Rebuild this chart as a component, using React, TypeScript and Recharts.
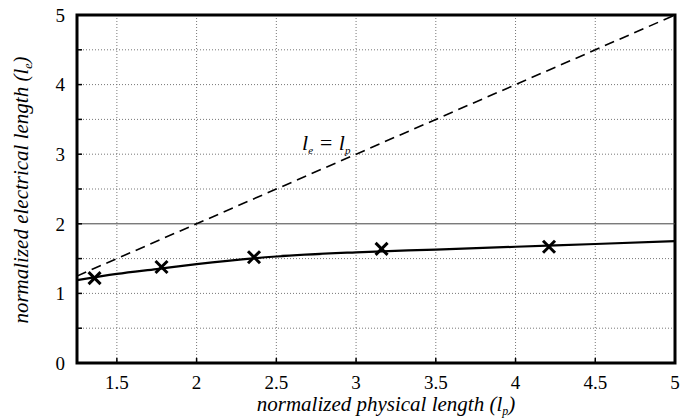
import React from "react";
import {
  ComposedChart,
  Line,
  Scatter,
  XAxis,
  YAxis,
  CartesianGrid,
  ReferenceLine,
  ReferenceArea,
  Label
} from "recharts";

// fitted curve (solid)
const curveX = [1.25, 1.5, 1.75, 2, 2.5, 3, 3.5, 4, 4.5, 5];
const curveY = [1.19, 1.28, 1.35, 1.42, 1.53, 1.59, 1.63, 1.67, 1.71, 1.75];

// measured points (x markers)
const measX = [1.36, 1.78, 2.36, 3.16, 4.21];
const measY = [1.22, 1.38, 1.52, 1.64, 1.67];

// reference line le = lp
const refX = [1.25, 5];

const xTicks = [1.5, 2, 2.5, 3, 3.5, 4, 4.5, 5];
const yTicks = [0, 0.5, 1, 1.5, 2, 2.5, 3, 3.5, 4, 4.5, 5];
const xGrid = [1.5, 2, 2.5, 3, 3.5, 4, 4.5];
const yGrid = [0.5, 1, 1.5, 2.5, 3, 3.5, 4, 4.5];

const curveData = curveX.map((x, i) => ({ x, y: curveY[i] }));
const measData = measX.map((x, i) => ({ x, y: measY[i] }));
const refData = refX.map((x) => ({ x, y: x }));

const FONT = '"Times New Roman", Times, "Liberation Serif", "Nimbus Roman", "DejaVu Serif", serif';
const txt = { fontFamily: FONT };
const itxt = { fontFamily: FONT, fontStyle: "italic" as const };

const Cross = (props: any) => {
  const { cx, cy } = props;
  const s = 6;
  return (
    <g stroke="#000" strokeWidth={3}>
      <line x1={cx - s} y1={cy - s} x2={cx + s} y2={cy + s} />
      <line x1={cx - s} y1={cy + s} x2={cx + s} y2={cy - s} />
    </g>
  );
};

const XTick = (props: any) => {
  const { x, y, payload } = props;
  return (
    <text x={x} y={y} dy="0.71em" textAnchor="middle" style={txt} fontSize={19} fill="#000">
      {payload.value}
    </text>
  );
};

const YTick = (props: any) => {
  const { x, y, payload } = props;
  if (!Number.isInteger(payload.value)) return <g />;
  return (
    <text x={x} y={y} dy="0.36em" textAnchor="end" style={txt} fontSize={19} fill="#000">
      {payload.value}
    </text>
  );
};

const YLabel = () => (
  <text
    transform="translate(28, 190) rotate(-90)"
    textAnchor="middle"
    style={itxt}
    fontSize={21}
    fill="#000"
  >
    normalized electrical length (l
    <tspan fontSize={12} dy={4}>e</tspan>
    <tspan dy={-4}>)</tspan>
  </text>
);

const XLabel = () => (
  <text x={386} y={411} textAnchor="middle" style={itxt} fontSize={21} fill="#000">
    normalized physical length (l
    <tspan fontSize={12} dy={4}>p</tspan>
    <tspan dy={-4}>)</tspan>
  </text>
);

export default function App() {
  return (
    <div style={{ position: "absolute", left: 0, top: 0, background: "#fff" }}>
      <ComposedChart
        width={690}
        height={418}
        margin={{ top: 15, right: 15, bottom: 0, left: 0 }}
      >
        <CartesianGrid
          horizontalValues={yGrid}
          verticalValues={xGrid}
          stroke="#777"
          strokeDasharray="1 2"
        />
        <XAxis
          type="number"
          dataKey="x"
          domain={[1.25, 5]}
          ticks={xTicks}
          allowDataOverflow
          height={55}
          axisLine={false}
          tickSize={-5}
          tickMargin={18}
          tickLine={{ stroke: "#000", strokeWidth: 1.5 }}
          tick={<XTick />}
          interval={0}
        >
          <Label content={<XLabel />} />
        </XAxis>
        <YAxis
          type="number"
          domain={[0, 5]}
          ticks={yTicks}
          width={77}
          axisLine={false}
          tickSize={-5}
          tickMargin={17}
          tickLine={{ stroke: "#000", strokeWidth: 1.5 }}
          tick={<YTick />}
          interval={0}
        >
          <Label content={<YLabel />} />
        </YAxis>
        <ReferenceLine y={2} stroke="#444" strokeWidth={1} />
        <Line
          data={refData}
          dataKey="y"
          type="linear"
          stroke="#000"
          strokeWidth={1.6}
          strokeDasharray="10 6"
          dot={false}
          isAnimationActive={false}
        />
        <Line
          data={curveData}
          dataKey="y"
          type="monotone"
          stroke="#000"
          strokeWidth={2.2}
          dot={false}
          isAnimationActive={false}
        />
        <Scatter
          data={measData}
          dataKey="y"
          shape={<Cross />}
          isAnimationActive={false}
        />
        <ReferenceArea
          x1={1.25}
          x2={5}
          y1={0}
          y2={5}
          fill="none"
          stroke="#000"
          strokeWidth={3}
        />
        <text x={302} y={150} style={itxt} fontSize={22} fill="#000">
          l<tspan fontSize={11} dy={4}>e</tspan>
          <tspan dy={-4}> = l</tspan>
          <tspan fontSize={11} dy={4}>p</tspan>
        </text>
      </ComposedChart>
    </div>
  );
}
